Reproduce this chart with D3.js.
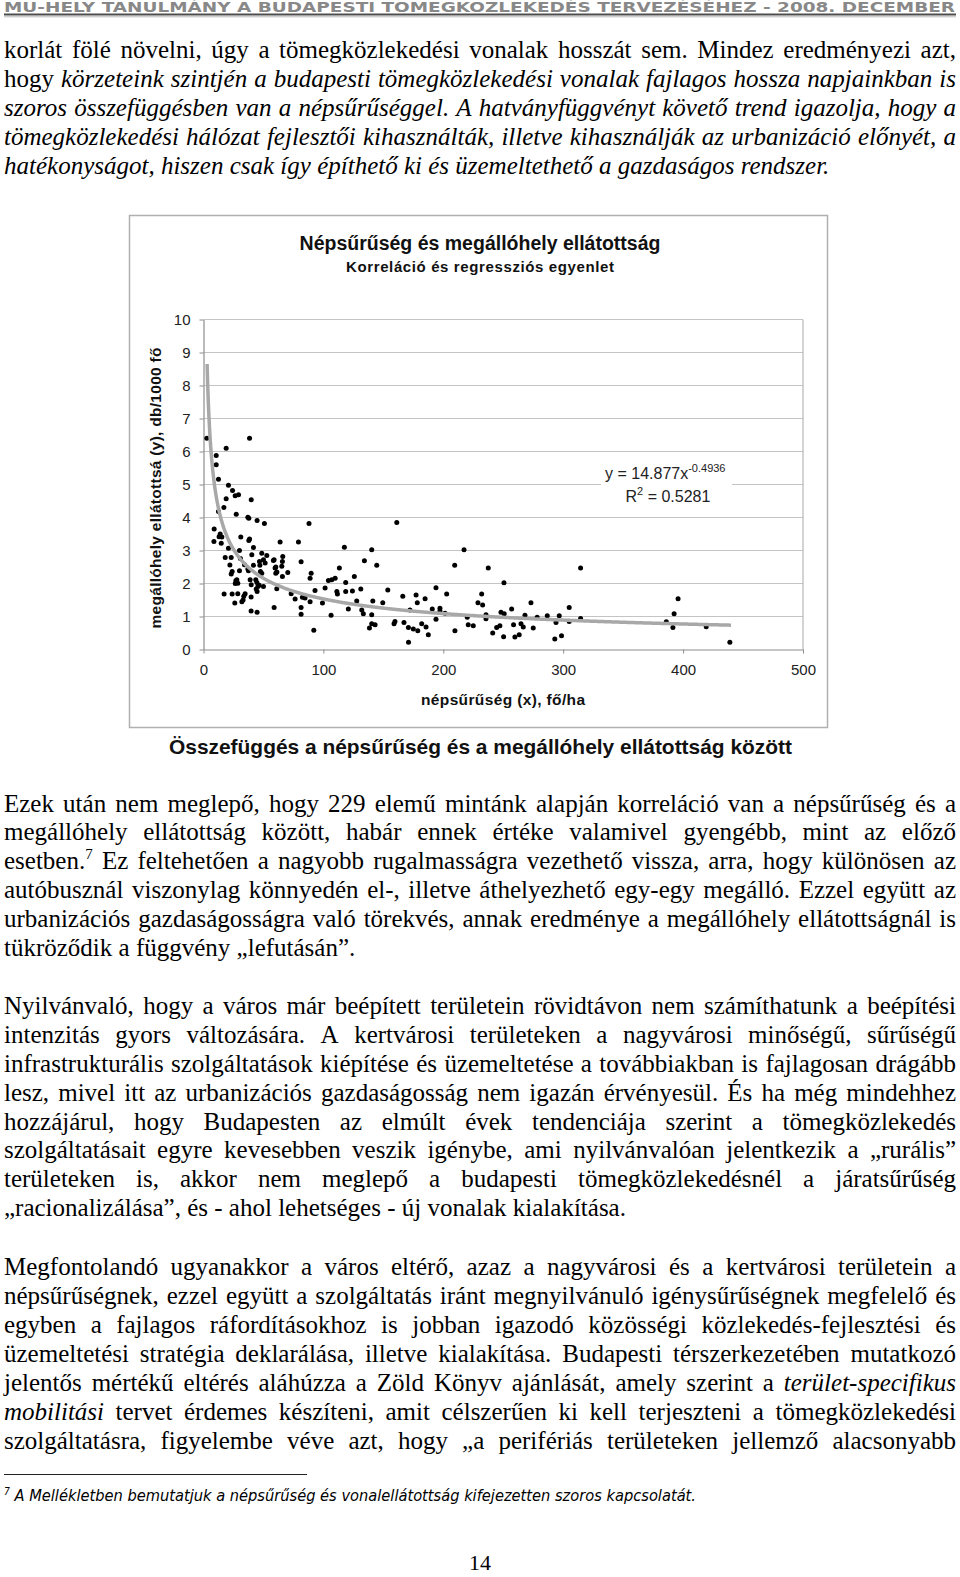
<!DOCTYPE html>
<html>
<head>
<meta charset="utf-8">
<script src="https://cdn.jsdelivr.net/npm/d3@7/dist/d3.min.js"></script>
<style>
body { margin: 0; background: #fff; }
svg { display: block; }
</style>
</head>
<body>
<svg id="oldal" width="960" height="1577"></svg>
<script>
//-------------------Adatok----------------------------------------

var xTicks = [0, 100, 200, 300, 400, 500];
var yTicks = [0, 1, 2, 3, 4, 5, 6, 7, 8, 9, 10];

// hatványfüggvény trend: y = a * x^b
var trendA = 14.877;
var trendB = -0.4936;
var trendR2 = 0.5281;
var trendTartomany = [3, 440];

// népsűrűség (fő/ha), megállóhely ellátottság (db/1000 fő)
var meresek = [
    [2.8,6.4],[38.4,6.4],[18.9,6.1],[10.6,5.88],[10.6,5.6],[12.5,5.16],[20.8,4.98],[24.2,4.82],[26.4,4.66],[29.2,4.69],
    [18.9,4.57],[39.8,4.54],[17,4.3],[12.5,4.18],[27.3,4.1],[37,4.01],[37.8,3.98],[44.7,3.91],[50.8,3.82],[88,3.82],
    [8.9,3.65],[13.9,3.5],[15.3,3.41],[13,3.42],[8.7,3.27],[14.8,3.22],[31.1,3.41],[38.4,3.35],[37.8,3.3],[63.9,3.26],
    [79.2,3.26],[20.8,3.07],[41.7,3.09],[30,3.0],[18.1,2.79],[23.1,2.79],[30.8,2.76],[40.3,2.87],[48.6,2.92],[52.8,2.85],
    [46.7,2.67],[50,2.72],[51.4,2.62],[58.3,2.7],[58.9,2.72],[66.1,2.82],[65.8,2.67],[81.4,2.66],[22,2.56],[34.2,2.57],
    [41.7,2.55],[47,2.55],[59.7,2.47],[60.3,2.5],[65.3,2.52],[37,2.44],[60.3,2.31],[61.2,2.35],[23.9,2.36],[23.1,2.29],
    [30,2.39],[37.5,2.39],[47.5,2.36],[48.6,2.31],[70.3,2.33],[65.8,2.21],[89.8,2.31],[88.9,2.16],[27,2.08],[27.8,2.11],
    [28.6,2.01],[26.5,2.0],[38.9,2.11],[39.8,1.96],[43.6,2.11],[44.5,2.03],[46.4,1.95],[45.4,1.91],[50,1.91],[61.1,1.84],
    [43.9,1.83],[44.7,1.76],[17.2,1.68],[23.9,1.68],[28.6,1.69],[34.7,1.69],[33.6,1.61],[32,1.45],[33,1.5],[39.7,1.59],
    [26.1,1.41],[73.1,1.69],[76.4,1.53],[82.5,1.58],[84.7,1.56],[88.9,1.45],[93,1.79],[101.4,1.86],[99.2,1.41],[81.4,1.27],
    [58.9,1.27],[39.7,1.17],[44.7,1.13],[81.4,1.07],[92,0.58],
    [161.2,3.85],[117.5,3.10],[140.3,3.02],[217.3,3.02],[134.2,2.69],[144.5,2.55],[209.5,2.55],[113.3,2.47],[104.2,2.09],[107,2.11],
    [109.8,2.16],[118.6,2.03],[125.8,2.21],[111.2,1.76],[111.7,1.68],[118.6,1.76],[124.2,1.77],[131.2,1.83],[153.7,1.80],[166.2,1.61],
    [177.3,1.65],[178.3,1.42],[184.8,1.54],[193.9,1.87],[202.8,1.68],[127.8,1.47],[141.2,1.47],[149.5,1.42],[120.8,1.23],[132,1.20],
    [133.3,1.08],[172.2,1.20],[190.8,1.23],[197.2,1.25],[197.2,1.17],[201.4,1.10],[228.9,1.42],[106.4,1.04],[140.3,1.05],[159.7,0.85],
    [158.9,0.78],[167.2,0.82],[170.9,0.67],[175,0.62],[178.7,0.57],[182,0.78],[185.6,0.68],[187.5,0.45],[193.9,0.92],[140.3,0.78],
    [143.1,0.75],[138.4,0.65],[209.7,0.57],[220,0.98],[220.8,0.75],[225,0.72],[171,0.22],
    [237.5,2.47],[314.5,2.47],[250.6,2.02],[232,1.68],[232.8,1.35],[273.1,1.42],[305,1.27],[257,1.23],[248.1,1.13],[250.8,1.08],
    [235.6,1.05],[235.6,0.93],[268.1,1.04],[278.3,0.98],[286.7,1.02],[296.7,1.02],[314.5,0.94],[244.5,0.67],[247.2,0.72],[258.6,0.75],
    [264.8,0.78],[266.7,0.68],[275,0.65],[241.2,0.50],[250.3,0.39],[259.7,0.38],[263.3,0.45],[293,0.32],[298.6,0.42],[294,0.82],
    [305,0.85],
    [395.8,1.54],[392.5,1.08],[391.5,0.67],[419.3,0.69],[386,0.84],[439,0.22]
];

//-------------------Szövegek (* = dőlt, ^ = felső index)----------------------------------------

var fejlec = "MŰ-HELY TANULMÁNY A BUDAPESTI TÖMEGKÖZLEKEDÉS TERVEZÉSÉHEZ - 2008. DECEMBER";

var bekezdes1 = [
    "korlát fölé növelni, úgy a tömegközlekedési vonalak hosszát sem. Mindez eredményezi azt,",
    "hogy *körzeteink szintjén a budapesti tömegközlekedési vonalak fajlagos hossza napjainkban is*",
    "*szoros összefüggésben van a népsűrűséggel. A hatványfüggvényt követő trend igazolja, hogy a*",
    "*tömegközlekedési hálózat fejlesztői kihasználták, illetve kihasználják az urbanizáció előnyét, a*",
    "*hatékonyságot, hiszen csak így építhető ki és üzemeltethető a gazdaságos rendszer.*"
];

var bekezdes2 = [
    "Ezek után nem meglepő, hogy 229 elemű mintánk alapján korreláció van a népsűrűség és a",
    "megállóhely ellátottság között, habár ennek értéke valamivel gyengébb, mint az előző",
    "esetben.^7 Ez feltehetően a nagyobb rugalmasságra vezethető vissza, arra, hogy különösen az",
    "autóbusznál viszonylag könnyedén el-, illetve áthelyezhető egy-egy megálló. Ezzel együtt az",
    "urbanizációs gazdaságosságra való törekvés, annak eredménye a megállóhely ellátottságnál is",
    "tükröződik a függvény „lefutásán”."
];

var bekezdes3 = [
    "Nyilvánvaló, hogy a város már beépített területein rövidtávon nem számíthatunk a beépítési",
    "intenzitás gyors változására. A kertvárosi területeken a nagyvárosi minőségű, sűrűségű",
    "infrastrukturális szolgáltatások kiépítése és üzemeltetése a továbbiakban is fajlagosan drágább",
    "lesz, mivel itt az urbanizációs gazdaságosság nem igazán érvényesül. És ha még mindehhez",
    "hozzájárul, hogy Budapesten az elmúlt évek tendenciája szerint a tömegközlekedés",
    "szolgáltatásait egyre kevesebben veszik igénybe, ami nyilvánvalóan jelentkezik a „rurális”",
    "területeken is, akkor nem meglepő a budapesti tömegközlekedésnél a járatsűrűség",
    "„racionalizálása”, és - ahol lehetséges - új vonalak kialakítása."
];

// ez a bekezdés a következő oldalon folytatódik, ezért minden sora sorkizárt
var bekezdes4 = [
    "Megfontolandó ugyanakkor a város eltérő, azaz a nagyvárosi és a kertvárosi területein a",
    "népsűrűségnek, ezzel együtt a szolgáltatás iránt megnyilvánuló igénysűrűségnek megfelelő és",
    "egyben a fajlagos ráfordításokhoz is jobban igazodó közösségi közlekedés-fejlesztési és",
    "üzemeltetési stratégia deklarálása, illetve kialakítása. Budapesti térszerkezetében mutatkozó",
    "jelentős mértékű eltérés aláhúzza a Zöld Könyv ajánlását, amely szerint a *terület-specifikus*",
    "*mobilitási* tervet érdemes készíteni, amit célszerűen ki kell terjeszteni a tömegközlekedési",
    "szolgáltatásra, figyelembe véve azt, hogy „a perifériás területeken jellemző alacsonyabb"
];

var labjegyzet = "A Mellékletben bemutatjuk a népsűrűség és vonalellátottság kifejezetten szoros kapcsolatát.";

//-------------------Oldal----------------------------------------

var svg = d3.select("#oldal");
var BETU = 25, BAL = 4, SZELESSEG = 952, SORKOZ = 28.95;
var SERIF = "'Liberation Serif', 'Times New Roman', serif";
var SANS = "'Liberation Sans', Arial, sans-serif";

svg.append("rect").attr("width", 960).attr("height", 1577).attr("fill", "#fff");

// fejléc
svg.append("text")
    .attr("x", 4).attr("y", 12)
    .attr("font-family", "'DejaVu Sans', sans-serif")
    .attr("font-weight", "bold").attr("font-size", 14)
    .attr("fill", "#888")
    .attr("textLength", 951).attr("lengthAdjust", "spacingAndGlyphs")
    .text(fejlec);
svg.append("line").attr("x1", 4).attr("x2", 956).attr("y1", 14.5).attr("y2", 14.5)
    .attr("stroke", "#4d4d4d").attr("stroke-width", 2);
svg.append("line").attr("x1", 4).attr("x2", 956).attr("y1", 16.8).attr("y2", 16.8)
    .attr("stroke", "#aaa").attr("stroke-width", 0.8);

//-------------------Sorkizárt sorok rajzolása----------------------------------------

function rajzolSor(y, sor, sorkizart) {
    var szavak = sor.split(" ");
    var elemek = [];
    var dolt = false;
    szavak.forEach(function(szo) {
        var reszek = [];
        var buf = "";
        for (var i = 0; i < szo.length; i++) {
            var c = szo[i];
            if (c == "*") {
                if (buf) reszek.push({ t: buf, i: dolt });
                buf = "";
                dolt = !dolt;
            } else if (c == "^") {
                if (buf) reszek.push({ t: buf, i: dolt });
                buf = "";
                reszek.push({ t: szo[i + 1], i: dolt, sup: true });
                i++;
            } else {
                buf += c;
            }
        }
        if (buf) reszek.push({ t: buf, i: dolt });

        var t = svg.append("text")
            .attr("y", y)
            .attr("font-family", SERIF)
            .attr("font-size", BETU)
            .attr("fill", "#000");
        reszek.forEach(function(r) {
            var ts = t.append("tspan").text(r.t)
                .attr("font-style", r.i ? "italic" : "normal");
            if (r.sup) ts.attr("font-size", BETU * 0.6).attr("dy", -10);
        });
        elemek.push({ sel: t, w: t.node().getComputedTextLength() });
    });

    var osszes = d3.sum(elemek, function(e) { return e.w; });
    var koz = BETU * 0.25;
    if (sorkizart && elemek.length > 1) {
        koz = Math.max(2, (SZELESSEG - osszes) / (elemek.length - 1));
    }
    var x = BAL;
    elemek.forEach(function(e) {
        e.sel.attr("x", x);
        x += e.w + koz;
    });
}

function rajzolBekezdes(sorok, elsoAlapvonal, utolsoIsSorkizart) {
    sorok.forEach(function(sor, i) {
        var sk = utolsoIsSorkizart || i < sorok.length - 1;
        rajzolSor(elsoAlapvonal + i * SORKOZ, sor, sk);
    });
}

rajzolBekezdes(bekezdes1, 58, false);
rajzolBekezdes(bekezdes2, 811.5, false);
rajzolBekezdes(bekezdes3, 1013.7, false);
rajzolBekezdes(bekezdes4, 1275.2, true);

//-------------------Diagram----------------------------------------

svg.append("rect")
    .attr("x", 129.5).attr("y", 215.5)
    .attr("width", 698).attr("height", 512)
    .attr("fill", "none").attr("stroke", "#b0b0b0").attr("stroke-width", 1.5);

svg.append("text")
    .attr("x", 480).attr("y", 249.5)
    .attr("text-anchor", "middle")
    .attr("font-family", SANS).attr("font-weight", "bold").attr("font-size", 19.5)
    .attr("fill", "#111")
    .text("Népsűrűség és megállóhely ellátottság");

svg.append("text")
    .attr("x", 480).attr("y", 271.5)
    .attr("text-anchor", "middle")
    .attr("font-family", SANS).attr("font-weight", "bold").attr("font-size", 15)
    .attr("fill", "#111")
    .attr("textLength", 268).attr("lengthAdjust", "spacing")
    .text("Korreláció és regressziós egyenlet");

var x = d3.scaleLinear().domain([0, 500]).range([203.5, 803]);
var y = d3.scaleLinear().domain([0, 10]).range([649.5, 319.5]);

var rajz = svg.append("g");

// rácsvonalak
rajz.selectAll("line.racs")
    .data(yTicks.filter(function(d) { return d > 0; }))
    .enter().append("line")
    .attr("class", "racs")
    .attr("x1", x(0)).attr("x2", x(500))
    .attr("y1", function(d) { return y(d); })
    .attr("y2", function(d) { return y(d); })
    .attr("stroke", "#c4c4c4").attr("stroke-width", 1.2);

rajz.append("line")
    .attr("x1", x(500)).attr("x2", x(500))
    .attr("y1", y(10)).attr("y2", y(0))
    .attr("stroke", "#b8b8b8").attr("stroke-width", 1.2);

// tengelyek
var yTengely = rajz.append("g")
    .attr("transform", "translate(" + x(0) + ",0)")
    .call(d3.axisLeft(y).tickValues(yTicks).tickSize(4).tickPadding(9).tickSizeOuter(0));
var xTengely = rajz.append("g")
    .attr("transform", "translate(0," + y(0) + ")")
    .call(d3.axisBottom(x).tickValues(xTicks).tickSize(4).tickPadding(11).tickSizeOuter(0));

[yTengely, xTengely].forEach(function(t) {
    t.select(".domain").attr("stroke", "#8c8c8c").attr("stroke-width", 1.2);
    t.selectAll(".tick line").attr("stroke", "#8c8c8c");
    t.selectAll(".tick text")
        .attr("font-family", SANS).attr("font-size", 15).attr("fill", "#222");
});

// tengelycímek
svg.append("text")
    .attr("x", 503).attr("y", 705)
    .attr("text-anchor", "middle")
    .attr("font-family", SANS).attr("font-weight", "bold").attr("font-size", 15.5)
    .attr("fill", "#111")
    .attr("textLength", 164).attr("lengthAdjust", "spacing")
    .text("népsűrűség (x), fő/ha");

svg.append("text")
    .attr("transform", "translate(161,488) rotate(-90)")
    .attr("text-anchor", "middle")
    .attr("font-family", SANS).attr("font-weight", "bold").attr("font-size", 15.5)
    .attr("fill", "#111")
    .attr("textLength", 281).attr("lengthAdjust", "spacing")
    .text("megállóhely ellátottsá (y), db/1000 fő");

// pontok
rajz.selectAll("circle.pont")
    .data(meresek)
    .enter().append("circle")
    .attr("class", "pont")
    .attr("cx", function(d) { return x(d[0]); })
    .attr("cy", function(d) { return y(d[1]); })
    .attr("r", 2.5)
    .attr("fill", "#000");

// trendvonal
var trendX = d3.range(trendTartomany[0], trendTartomany[1] + 0.5, 0.5);
var vonal = d3.line()
    .x(function(d) { return x(d); })
    .y(function(d) { return y(trendA * Math.pow(d, trendB)); });
rajz.append("path")
    .datum(trendX)
    .attr("d", vonal)
    .attr("fill", "none")
    .attr("stroke", "#a8a8a8")
    .attr("stroke-width", 3.5);

// egyenlet
rajz.append("rect")
    .attr("x", 601).attr("y", 457)
    .attr("width", 131).attr("height", 49)
    .attr("fill", "#fff");
var egyenlet = rajz.append("text")
    .attr("x", 605).attr("y", 479)
    .attr("font-family", SANS).attr("font-size", 16).attr("fill", "#222");
egyenlet.append("tspan").text("y = " + trendA.toFixed(3) + "x");
egyenlet.append("tspan").attr("dy", -7).attr("font-size", 11).text(trendB.toFixed(4));
var r2 = rajz.append("text")
    .attr("x", 625.5).attr("y", 501.5)
    .attr("font-family", SANS).attr("font-size", 16).attr("fill", "#222");
r2.append("tspan").text("R");
r2.append("tspan").attr("dy", -7).attr("font-size", 11).text("2");
r2.append("tspan").attr("dy", 7).text(" = " + trendR2.toFixed(4));

// ábracím
svg.append("text")
    .attr("x", 480.5).attr("y", 754)
    .attr("text-anchor", "middle")
    .attr("font-family", SANS).attr("font-weight", "bold").attr("font-size", 21)
    .attr("fill", "#111")
    .attr("textLength", 623).attr("lengthAdjust", "spacingAndGlyphs")
    .text("Összefüggés a népsűrűség és a megállóhely ellátottság között");

//-------------------Lábjegyzet, oldalszám----------------------------------------

svg.append("line")
    .attr("x1", 4).attr("x2", 307).attr("y1", 1474.5).attr("y2", 1474.5)
    .attr("stroke", "#222").attr("stroke-width", 1.2);

var lj = svg.append("text")
    .attr("x", 4).attr("y", 1501)
    .attr("font-family", "'DejaVu Sans', Verdana, sans-serif")
    .attr("font-style", "italic").attr("font-size", 16).attr("fill", "#000");
lj.append("tspan").attr("font-size", 10).attr("dy", -6).text("7");
lj.append("tspan").attr("dy", 6).text(" " + labjegyzet);
lj.attr("textLength", 692).attr("lengthAdjust", "spacingAndGlyphs");

svg.append("text")
    .attr("x", 480).attr("y", 1570)
    .attr("text-anchor", "middle")
    .attr("font-family", SERIF).attr("font-size", 22).attr("fill", "#000")
    .text("14");
</script>
</body>
</html>
